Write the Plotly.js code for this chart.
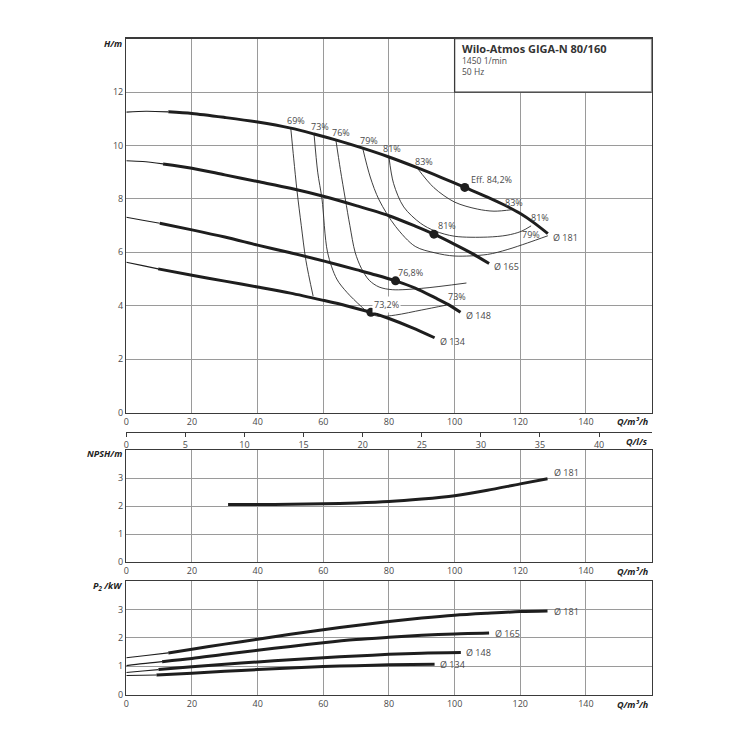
<!DOCTYPE html>
<html>
<head>
<meta charset="utf-8">
<script src="https://cdn.plot.ly/plotly-3.0.1.min.js"></script>
<style>html,body{margin:0;padding:0;background:#fff;}#chart{width:750px;height:750px;}</style>
</head>
<body>
<div id="chart"></div>
<script>
// ---------- Q-H curves (Q in m³/h, H in m) ----------
const q181 = [0, 6, 12.8, 20, 30, 40, 50.1, 57.2, 64, 72, 80, 88.6, 96, 103.1, 110, 115, 120, 124, 128.4];
const h181 = [11.25, 11.28, 11.26, 11.2, 11.05, 10.88, 10.65, 10.43, 10.2, 9.9, 9.57, 9.17, 8.8, 8.43, 8.07, 7.78, 7.45, 7.12, 6.70];
const q165 = [0, 5, 11.2, 20, 30, 40, 50, 60, 70, 80, 88, 93.7, 100, 105, 110.5];
const h165 = [9.43, 9.40, 9.31, 9.15, 8.9, 8.65, 8.4, 8.1, 7.75, 7.37, 6.98, 6.68, 6.3, 5.98, 5.58];
const q148 = [0, 5, 10.2, 20, 30, 40, 50, 60, 70, 76, 82, 88, 94, 98, 101.8];
const h148 = [7.31, 7.2, 7.09, 6.84, 6.57, 6.27, 5.98, 5.68, 5.35, 5.15, 4.93, 4.66, 4.3, 4.05, 3.75];
const q134 = [0, 5, 9.7, 20, 30, 40, 50, 60, 67, 74.5, 80, 87, 93.9];
const h134 = [5.63, 5.5, 5.38, 5.14, 4.92, 4.7, 4.47, 4.2, 4.0, 3.75, 3.52, 3.18, 2.8];
const hThickStart = [12.8, 11.2, 10.2, 9.7];

// ---------- iso-efficiency lines ----------
const qE69 = [50.1, 51.0, 52.0, 53.3, 54.7, 56.9];
const hE69 = [10.65, 9.5, 8.3, 7.0, 5.7, 4.36];
const qE73 = [57.2, 58.3, 59.6, 61.3, 64.1, 67.2, 71.3, 74, 77, 82, 90, 97.4];
const hE73 = [10.42, 9.0, 8.0, 6.0, 5.0, 4.5, 4.0, 3.72, 3.6, 3.65, 3.84, 4.02];
const qE76 = [63.8, 65.2, 66.7, 68.1, 69.7, 71.6, 74, 77, 81, 90, 103.6];
const hE76 = [10.24, 9.1, 8.0, 7.0, 6.0, 5.4, 4.95, 4.7, 4.6, 4.65, 4.85];
const qE79 = [72, 74.3, 77.0, 82.0, 88.0, 94, 100, 110, 116, 122.2, 128.4];
const hE79 = [9.9, 8.82, 7.96, 6.97, 6.22, 5.98, 5.86, 5.92, 6.1, 6.35, 6.62];
const qE81 = [80, 81.4, 84.5, 89.6, 94, 100, 110, 116, 120.2, 123.3];
const hE81 = [9.57, 8.58, 7.7, 7.09, 6.8, 6.6, 6.57, 6.64, 6.78, 6.99];
const qE83 = [88.6, 93.7, 100, 106.9, 112, 117.7];
const hE83 = [9.16, 8.42, 7.88, 7.62, 7.54, 7.6];

// ---------- best efficiency points ----------
const bepQ = [103.1, 93.7, 82.0, 74.5];
const bepH = [8.43, 6.68, 4.93, 3.75];

// ---------- NPSH ----------
const qNpsh = [31, 40, 50, 60, 70, 80, 90, 100, 110, 120, 128.3];
const npsh181 = [2.05, 2.05, 2.06, 2.08, 2.11, 2.16, 2.25, 2.37, 2.56, 2.79, 2.97];

// ---------- P2 (kW) ----------
const qP181 = [0, 6, 12.8, 20, 30, 40, 50, 60, 70, 80, 90, 100, 110, 120, 128.3];
const p181 = [1.30, 1.38, 1.47, 1.6, 1.78, 1.95, 2.13, 2.29, 2.44, 2.58, 2.7, 2.8, 2.87, 2.93, 2.95];
const qP165 = [0, 5, 10.9, 20, 30, 40, 50, 60, 70, 80, 90, 100, 110.5];
const p165 = [1.02, 1.09, 1.16, 1.27, 1.42, 1.56, 1.70, 1.83, 1.94, 2.02, 2.09, 2.14, 2.17];
const qP148 = [0, 5, 9.8, 20, 30, 40, 50, 60, 70, 80, 90, 101.9];
const p148 = [0.78, 0.83, 0.88, 0.98, 1.07, 1.15, 1.23, 1.30, 1.36, 1.42, 1.46, 1.48];
const qP134 = [0, 5, 9.2, 20, 30, 40, 50, 60, 70, 80, 93.9];
const p134 = [0.67, 0.68, 0.69, 0.75, 0.82, 0.88, 0.94, 0.99, 1.02, 1.05, 1.07];
const pThickStart = [12.8, 10.9, 9.8, 9.2];

// ---------- tick labels ----------
const qTicks = [0, 20, 40, 60, 80, 100, 120, 140];
const lsTicks = [0, 5, 10, 15, 20, 25, 30, 35, 40];
const hTicks = [0, 2, 4, 6, 8, 10, 12];
const smallTicks = [0, 1, 2, 3];

const FONT = 'Open Sans, Liberation Sans, sans-serif';
const TXT = '#4a4a4a';
const CURVE = '#1e1e1e';
const GRID = '#9a9a9a';
const BORDER = '#3a3a3a';

const traces = [];
function curve(q, v, start, xa, ya) {
  const tq = [], tv = [], kq = [], kv = [];
  for (let i = 0; i < q.length; i++) {
    if (q[i] <= start) { tq.push(q[i]); tv.push(v[i]); }
    if (q[i] >= start) { kq.push(q[i]); kv.push(v[i]); }
  }
  traces.push({x: tq, y: tv, xaxis: xa, yaxis: ya, mode: 'lines', line: {color: CURVE, width: 1.1, shape: 'spline', smoothing: 0.8}, hoverinfo: 'skip'});
  traces.push({x: kq, y: kv, xaxis: xa, yaxis: ya, mode: 'lines', line: {color: CURVE, width: 3, shape: 'spline', smoothing: 0.8}, hoverinfo: 'skip'});
}
function thin(q, v, xa, ya) {
  traces.push({x: q, y: v, xaxis: xa, yaxis: ya, mode: 'lines', line: {color: '#2a2a2a', width: 0.9, shape: 'spline', smoothing: 0.9}, hoverinfo: 'skip'});
}

thin(qE69, hE69, 'x', 'y');
thin(qE73, hE73, 'x', 'y');
thin(qE76, hE76, 'x', 'y');
thin(qE79, hE79, 'x', 'y');
thin(qE81, hE81, 'x', 'y');
thin(qE83, hE83, 'x', 'y');

curve(q181, h181, hThickStart[0], 'x', 'y');
curve(q165, h165, hThickStart[1], 'x', 'y');
curve(q148, h148, hThickStart[2], 'x', 'y');
curve(q134, h134, hThickStart[3], 'x', 'y');

traces.push({x: bepQ, y: bepH, xaxis: 'x', yaxis: 'y', mode: 'markers', marker: {color: CURVE, size: 9}, hoverinfo: 'skip'});

traces.push({x: qNpsh, y: npsh181, xaxis: 'x2', yaxis: 'y2', mode: 'lines', line: {color: CURVE, width: 3, shape: 'spline', smoothing: 0.8}, hoverinfo: 'skip'});

curve(qP181, p181, pThickStart[0], 'x3', 'y3');
curve(qP165, p165, pThickStart[1], 'x3', 'y3');
curve(qP148, p148, pThickStart[2], 'x3', 'y3');
curve(qP134, p134, pThickStart[3], 'x3', 'y3');

// invisible trace so the l/s axis is drawn
traces.push({x: [0], y: [null], xaxis: 'x4', yaxis: 'y', mode: 'lines', hoverinfo: 'skip', showlegend: false});

const XD = [126.3 / 750, 651.6 / 750];
function py(px) { return (750 - px) / 750; }

const tickFont = {family: FONT, size: 9, color: TXT};
function xax(extra) {
  return Object.assign({
    domain: XD, range: [0, 160], tickvals: qTicks, ticktext: qTicks.map(String),
    showgrid: true, gridcolor: GRID, gridwidth: 1,
    showline: true, linecolor: BORDER, linewidth: 1.3, mirror: true,
    zeroline: false, ticks: '', tickfont: tickFont, fixedrange: true
  }, extra);
}
function yax(extra) {
  return Object.assign({
    showgrid: true, gridcolor: GRID, gridwidth: 1,
    showline: true, linecolor: BORDER, linewidth: 1.3, mirror: true,
    zeroline: false, ticks: '', tickfont: tickFont, fixedrange: true
  }, extra);
}

const layout = {
  width: 750, height: 750,
  margin: {l: 0, r: 0, t: 0, b: 0},
  paper_bgcolor: '#fff', plot_bgcolor: '#fff',
  showlegend: false, hovermode: false,
  font: {family: FONT, color: TXT, size: 9},
  xaxis: xax({anchor: 'y'}),
  yaxis: yax({domain: [py(412.5), py(38.7)], range: [0, 14], tickvals: hTicks, anchor: 'x'}),
  xaxis2: xax({anchor: 'y2'}),
  yaxis2: yax({domain: [py(562), py(450)], range: [0, 4], tickvals: smallTicks, anchor: 'x2'}),
  xaxis3: xax({anchor: 'y3'}),
  yaxis3: yax({domain: [py(694.5), py(581.3)], range: [0, 4], tickvals: smallTicks, anchor: 'x3'}),
  xaxis4: {
    overlaying: 'x', anchor: 'free', position: py(432), range: [0, 160 / 3.6],
    tickvals: lsTicks, ticktext: lsTicks.map(String), showgrid: false, zeroline: false,
    showline: true, linecolor: BORDER, linewidth: 1.2, ticks: 'outside', ticklen: 4,
    tickcolor: BORDER, tickwidth: 1, tickfont: tickFont, side: 'bottom', fixedrange: true
  },
  shapes: [
    {type: 'rect', xref: 'x', yref: 'y', x0: 100, x1: 160, y0: 12, y1: 14,
     fillcolor: '#fff', line: {color: BORDER, width: 1.3}, layer: 'above'}
  ],
  annotations: []
};

const A = layout.annotations;
function lab(text, x, y, xa, ya, anchor, size, extra) {
  A.push(Object.assign({text: text, x: x, y: y, xref: xa, yref: ya, showarrow: false,
    xanchor: anchor || 'center', yanchor: 'middle', font: {family: FONT, size: size || 9, color: TXT}}, extra || {}));
}

// title box
lab('<b>Wilo-Atmos GIGA-N 80/160</b>', 101.5, 13.62, 'x', 'y', 'left', 11, {font: {family: FONT, size: 11, color: '#333'}});
lab('1450 1/min', 101.5, 13.2, 'x', 'y', 'left', 8.5);
lab('50 Hz', 101.5, 12.78, 'x', 'y', 'left', 8.5);

// efficiency labels
lab('69%', 51.6, 10.92, 'x', 'y');
lab('73%', 59.0, 10.73, 'x', 'y');
lab('76%', 65.4, 10.49, 'x', 'y');
lab('79%', 73.8, 10.17, 'x', 'y');
lab('81%', 81.0, 9.9, 'x', 'y');
lab('83%', 90.8, 9.41, 'x', 'y');
lab('Eff. 84,2%', 104.4, 8.72, 'x', 'y', 'left');
lab('83%', 118.2, 7.86, 'x', 'y');
lab('81%', 126.1, 7.29, 'x', 'y');
lab('79%', 123.3, 6.65, 'x', 'y');
lab('81%', 97.6, 6.99, 'x', 'y');
lab('76,8%', 86.7, 5.24, 'x', 'y');
lab('73%', 100.8, 4.34, 'x', 'y');
lab('73,2%', 79.3, 4.05, 'x', 'y', 'center', 9, {bgcolor: '#fff'});
lab('Ø 181', 129.4, 6.56, 'x', 'y', 'left');
lab('Ø 165', 111.5, 5.45, 'x', 'y', 'left');
lab('Ø 148', 102.9, 3.64, 'x', 'y', 'left');
lab('Ø 134', 94.9, 2.67, 'x', 'y', 'left');

lab('Ø 181', 129.6, 3.2, 'x2', 'y2', 'left');
lab('Ø 181', 129.6, 2.92, 'x3', 'y3', 'left');
lab('Ø 165', 111.6, 2.17, 'x3', 'y3', 'left');
lab('Ø 148', 103.0, 1.48, 'x3', 'y3', 'left');
lab('Ø 134', 95.0, 1.05, 'x3', 'y3', 'left');

// axis titles
const titleFont = {family: FONT, size: 9, color: '#222'};
function atitle(text, xpx, ypx, anchor) {
  A.push({text: text, x: xpx / 750, y: py(ypx), xref: 'paper', yref: 'paper', showarrow: false,
    xanchor: anchor, yanchor: 'middle', font: titleFont});
}
atitle('<b><i>H/m</i></b>', 124, 44, 'right');
atitle('<b><i>NPSH/m</i></b>', 124, 453, 'right');
atitle('<b><i>P<sub>2</sub> /kW</i></b>', 124, 586, 'right');
atitle('<b><i>Q/m³/h</i></b>', 650, 421, 'right');
atitle('<b><i>Q/l/s</i></b>', 650, 441, 'right');
atitle('<b><i>Q/m³/h</i></b>', 650, 571, 'right');
atitle('<b><i>Q/m³/h</i></b>', 650, 704, 'right');

Plotly.newPlot('chart', traces, layout, {staticPlot: true, displayModeBar: false});
</script>
</body>
</html>
